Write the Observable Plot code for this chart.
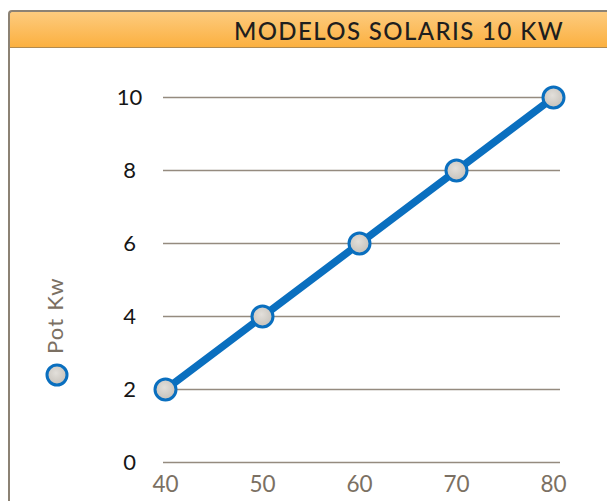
<!DOCTYPE html>
<html>
<head>
<meta charset="utf-8">
<script src="https://cdn.jsdelivr.net/npm/d3@7"></script>
<script src="https://cdn.jsdelivr.net/npm/@observablehq/plot@0.6"></script>
<style>
  html, body { margin: 0; padding: 0; background: #fff; }
  #wrap { position: relative; width: 607px; height: 501px; overflow: hidden; font-family: Lato, "Noto Sans", sans-serif; }
  #header {
    position: absolute; left: 8px; top: 10px; width: 610px; height: 35px;
    border-top: 2px solid #8c8274; border-left: 2px solid #8c8274; border-bottom: 1px solid #b08a50;
    border-top-left-radius: 4px;
    background: linear-gradient(#fdcb7e, #fbb040);
  }
  #title {
    position: absolute; right: 43px; top: 16px; font-size: 24px; line-height: 30px;
    color: #1e1e1e; font-weight: 500; letter-spacing: 1.4px; white-space: nowrap;
  }
  #leftline { position: absolute; left: 8px; top: 47px; width: 2px; height: 460px; background: #8c8274; }
  #chart { position: absolute; left: 0; top: 47px; }
  #legend { position: absolute; left: 0; top: 0; }
</style>
</head>
<body>
<div id="wrap">
  <div id="header"></div>
  <div id="title"></div>
  <div id="leftline"></div>
  <div id="chart"></div>
  <svg id="legend" width="120" height="501"></svg>
</div>
<script>
const title = "MODELOS SOLARIS 10 KW";
const seriesName = "Pot Kw";
const xValues = [40, 50, 60, 70, 80];
const potKw = [2, 4, 6, 8, 10];
const yTicks = [0, 2, 4, 6, 8, 10];
const xTicks = [40, 50, 60, 70, 80];

const blue = "#0a6fbf";
const grid = "#958b7f";
const tickGray = "#7b7063";

document.getElementById("title").textContent = title;

const data = xValues.map((x, i) => ({x, y: potKw[i]}));

const plot = Plot.plot({
  width: 607,
  height: 454,
  marginLeft: 165,
  marginRight: 54,
  marginTop: 50,
  marginBottom: 39,
  style: {fontFamily: "Lato, 'Noto Sans', sans-serif", background: "transparent", overflow: "visible"},
  x: {domain: [40, 80], ticks: xTicks},
  y: {domain: [0, 10], ticks: yTicks},
  marks: [
    Plot.ruleY(yTicks, {stroke: grid, strokeWidth: 1.6, insetLeft: -2, insetRight: -7}),
    Plot.axisY(yTicks, {tickSize: 0, tickPadding: 36, textAnchor: "middle", fontSize: 22, fill: "#161616", label: null}),
    Plot.axisX(xTicks, {tickSize: 0, tickPadding: 14, fontSize: 22.5, fill: tickGray, label: null}),
    Plot.line(data, {x: "x", y: "y", stroke: blue, strokeWidth: 7.5}),
    Plot.dot(data, {x: "x", y: "y", r: 10.5, fill: "url(#dotgrad)", stroke: blue, strokeWidth: 3})
  ]
});

const defs = d3.select(plot).insert("defs", ":first-child");
const g = defs.append("radialGradient").attr("id", "dotgrad").attr("cx", "45%").attr("cy", "40%").attr("r", "60%");
g.append("stop").attr("offset", "0%").attr("stop-color", "#e2dfda");
g.append("stop").attr("offset", "100%").attr("stop-color", "#c6c1ba");

document.getElementById("chart").appendChild(plot);

// legend
const leg = d3.select("#legend");
const ldefs = leg.append("defs");
const lg = ldefs.append("radialGradient").attr("id", "leggrad").attr("cx", "45%").attr("cy", "40%").attr("r", "60%");
lg.append("stop").attr("offset", "0%").attr("stop-color", "#e2dfda");
lg.append("stop").attr("offset", "100%").attr("stop-color", "#c6c1ba");
leg.append("circle").attr("cx", 57).attr("cy", 375).attr("r", 10).attr("fill", "url(#leggrad)")
  .attr("stroke", blue).attr("stroke-width", 3);
leg.append("text").attr("transform", "translate(63,354) rotate(-90)")
  .attr("font-family", "Lato, 'Noto Sans', sans-serif").attr("font-size", 22)
  .attr("letter-spacing", 1.2)
  .attr("fill", tickGray).text(seriesName);
</script>
</body>
</html>
